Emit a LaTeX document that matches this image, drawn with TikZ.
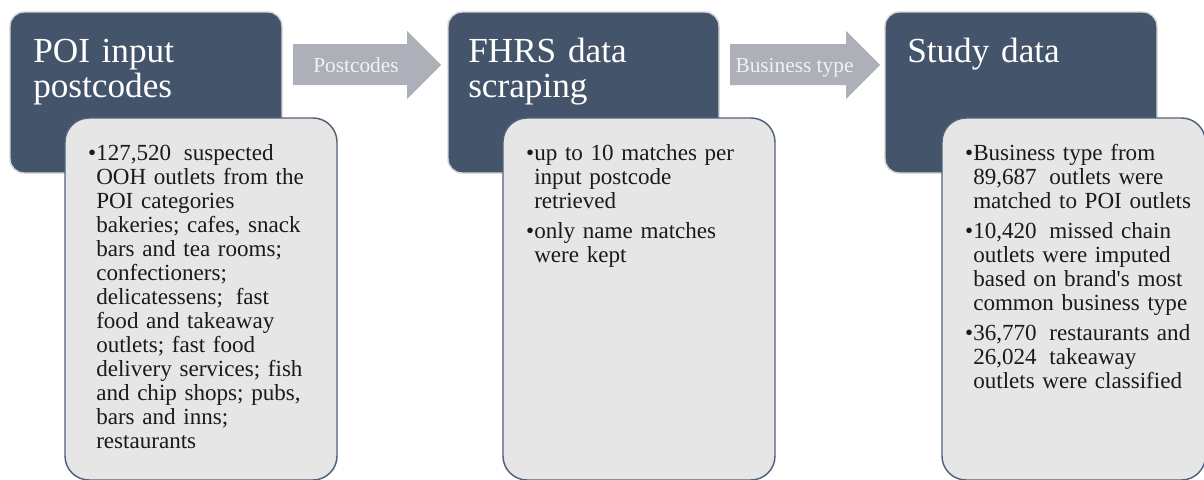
\documentclass[tikz,border=0pt]{standalone}
\usepackage{fontspec}
\setmainfont{Liberation Serif}[Ligatures=TeXOff]
\definecolor{slate}{HTML}{44546A}
\definecolor{panel}{HTML}{E6E6E6}
\definecolor{panelline}{HTML}{52627A}
\definecolor{arrowgray}{HTML}{ADB0B8}
\definecolor{rim}{HTML}{D4D4D4}
\definecolor{ink}{HTML}{1A1A1A}
\newcommand{\itembullet}{\leavevmode\llap{•}}
\newcommand{\wgap}{\hspace{0.55em}}
\begin{document}
\begin{tikzpicture}[x=0.75pt,y=-0.75pt,
  stagebox/.style={fill=slate, draw=rim, line width=1.1pt, rounded corners=10.5pt},
  notebox/.style={fill=panel, draw=panelline, line width=1.1pt, rounded corners=18pt},
  flowarrow/.style={fill=arrowgray, draw=none},
  stagetitle/.style={anchor=base west, inner sep=0pt, text=white, text width=200pt,
    align=left, font=\fontsize{26.4pt}{26.25pt}\selectfont},
  notetext/.style={anchor=base west, inner sep=0pt, text=ink, text width=220pt,
    align=left, font=\fontsize{17.3pt}{18pt}\selectfont},
  arrowlabel/.style={anchor=base, inner sep=0pt, text=white!95!black,
    font=\fontsize{16pt}{18pt}\selectfont}
]
\useasboundingbox (0,0) rectangle (1204,479);
\clip (0,0) rectangle (1204,479);

% stage 1: POI input
\draw[stagebox] (10,12) rectangle (282,173);
\node[stagetitle] (t1) at (33,62) {POI input\\postcodes};
\draw[notebox] (65,118) rectangle (337,480);
\node[notetext] (n1) at (96,160) {\itembullet 127,520\wgap suspected\\
OOH outlets from the\\
POI categories\\
bakeries; cafes, snack\\
bars and tea rooms;\\
confectioners;\\
delicatessens;\wgap fast\\
food and takeaway\\
outlets; fast food\\
delivery services; fish\\
and chip shops; pubs,\\
bars and inns;\\
restaurants};

% arrow 1
\fill[flowarrow] (293,44) -- (407,44) -- (407,31) -- (441,65) -- (407,99) -- (407,85) -- (293,85) -- cycle;
\node[arrowlabel] (a1) at (356,72) {Postcodes};

% stage 2: FHRS scraping
\draw[stagebox] (448,12) rectangle (719,173);
\node[stagetitle] (t2) at (468,62) {FHRS data\\scraping};
\draw[notebox] (503,118) rectangle (775,480);
\node[notetext] (n2) at (534,160) {\itembullet up to 10 matches per\\
input postcode\\
retrieved\\[4.5pt]
\itembullet only name matches\\
were kept};

% arrow 2
\fill[flowarrow] (730,44) -- (846,44) -- (846,31) -- (880,65) -- (846,99) -- (846,85) -- (730,85) -- cycle;
\node[arrowlabel] (a2) at (794.5,72) {Business type};

% stage 3: study data
\draw[stagebox] (885,12) rectangle (1157,173);
\node[stagetitle] (t3) at (907,62) {Study data};
\draw[notebox] (942,118) rectangle (1205.5,480);
\node[notetext] (n3) at (973,160) {\itembullet Business type from\\
89,687\wgap outlets were\\
matched to POI outlets\\[4.5pt]
\itembullet 10,420\wgap missed chain\\
outlets were imputed\\
based on brand's most\\
common business type\\[4.5pt]
\itembullet 36,770\wgap restaurants and\\
26,024\wgap takeaway\\
outlets were classified};
\end{tikzpicture}
\end{document}
